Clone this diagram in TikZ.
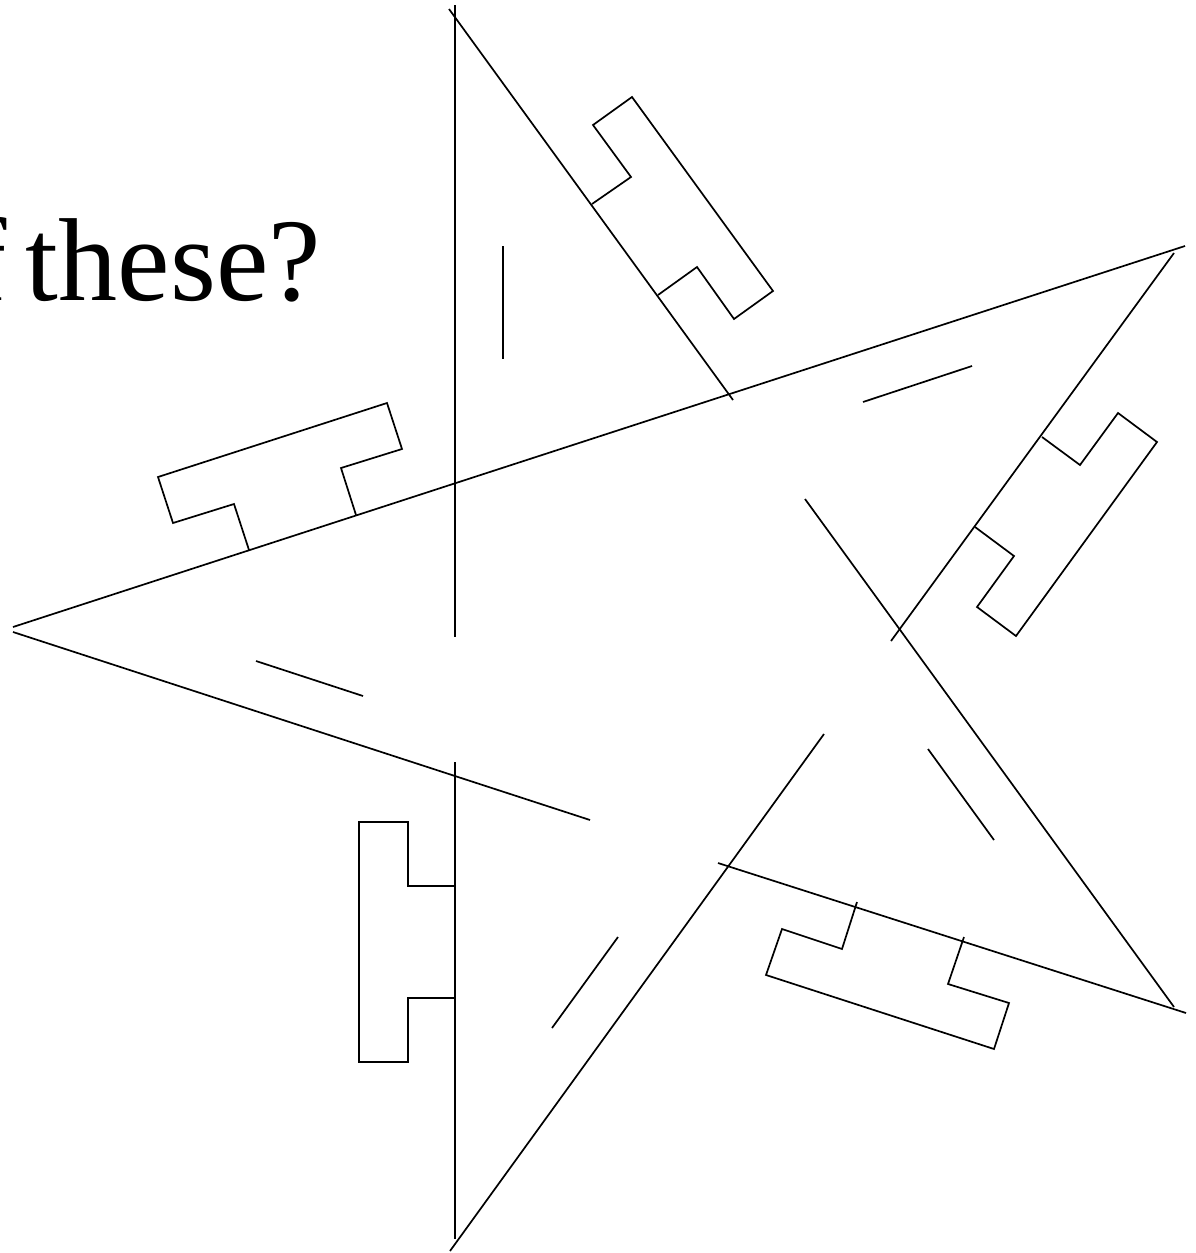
\documentclass[tikz,border=0pt]{standalone}
\usepackage{fontspec}
\setmainfont{Liberation Serif}
\begin{document}
\begin{tikzpicture}[x=1pt,y=-1pt,
  stroke/.style={line width=1.7pt, line cap=butt, line join=miter, black},
  title/.style={font=\fontsize{118}{124}\selectfont, inner sep=0pt}]
\useasboundingbox (0,0) rectangle (1195,1253);
% title text (cut at the left edge)
\node[title, anchor=base east] (t) at (321,300) {of\kern-10pt\ these?};
% the five long strokes (each drawn as two pieces)
\draw[stroke] (455,5) -- (455,637);
\draw[stroke] (449,9) -- (733,400);
\draw[stroke] (13,627) -- (1185,246);
\draw[stroke] (1174,253) -- (891,641);
\draw[stroke] (805,499) -- (1174,1007);
\draw[stroke] (718,863) -- (1186,1013);
\draw[stroke] (824,734) -- (450,1251);
\draw[stroke] (455,762) -- (455,1239);
\draw[stroke] (13,632) -- (590,820);
% short inner strokes
\draw[stroke] (503,246) -- (503,359);
\draw[stroke] (863,402) -- (972,366);
\draw[stroke] (928,749) -- (994,840);
\draw[stroke] (552,1028) -- (618,937);
\draw[stroke] (256,661) -- (363,696);
% the five T-shaped brackets
\draw[stroke] (592,204) -- (631,177) -- (593,125) -- (632,97) -- (773,291) -- (734,319) -- (697,267) -- (658,295);
\draw[stroke] (1042,437) -- (1080,465) -- (1118,413) -- (1157,442) -- (1016,636) -- (977,607) -- (1014,556) -- (975,527);
\draw[stroke] (857,902) -- (842,949) -- (782,929) -- (766,975) -- (994,1049) -- (1009,1003) -- (948,984) -- (964,937);
\draw[stroke] (456,886) -- (408,886) -- (408,822) -- (359,822) -- (359,1062) -- (408,1062) -- (408,998) -- (456,998);
\draw[stroke] (249,550) -- (234,504) -- (173,523) -- (158,477) -- (387,403) -- (402,449) -- (341,468) -- (356,515);
\end{tikzpicture}
\end{document}
